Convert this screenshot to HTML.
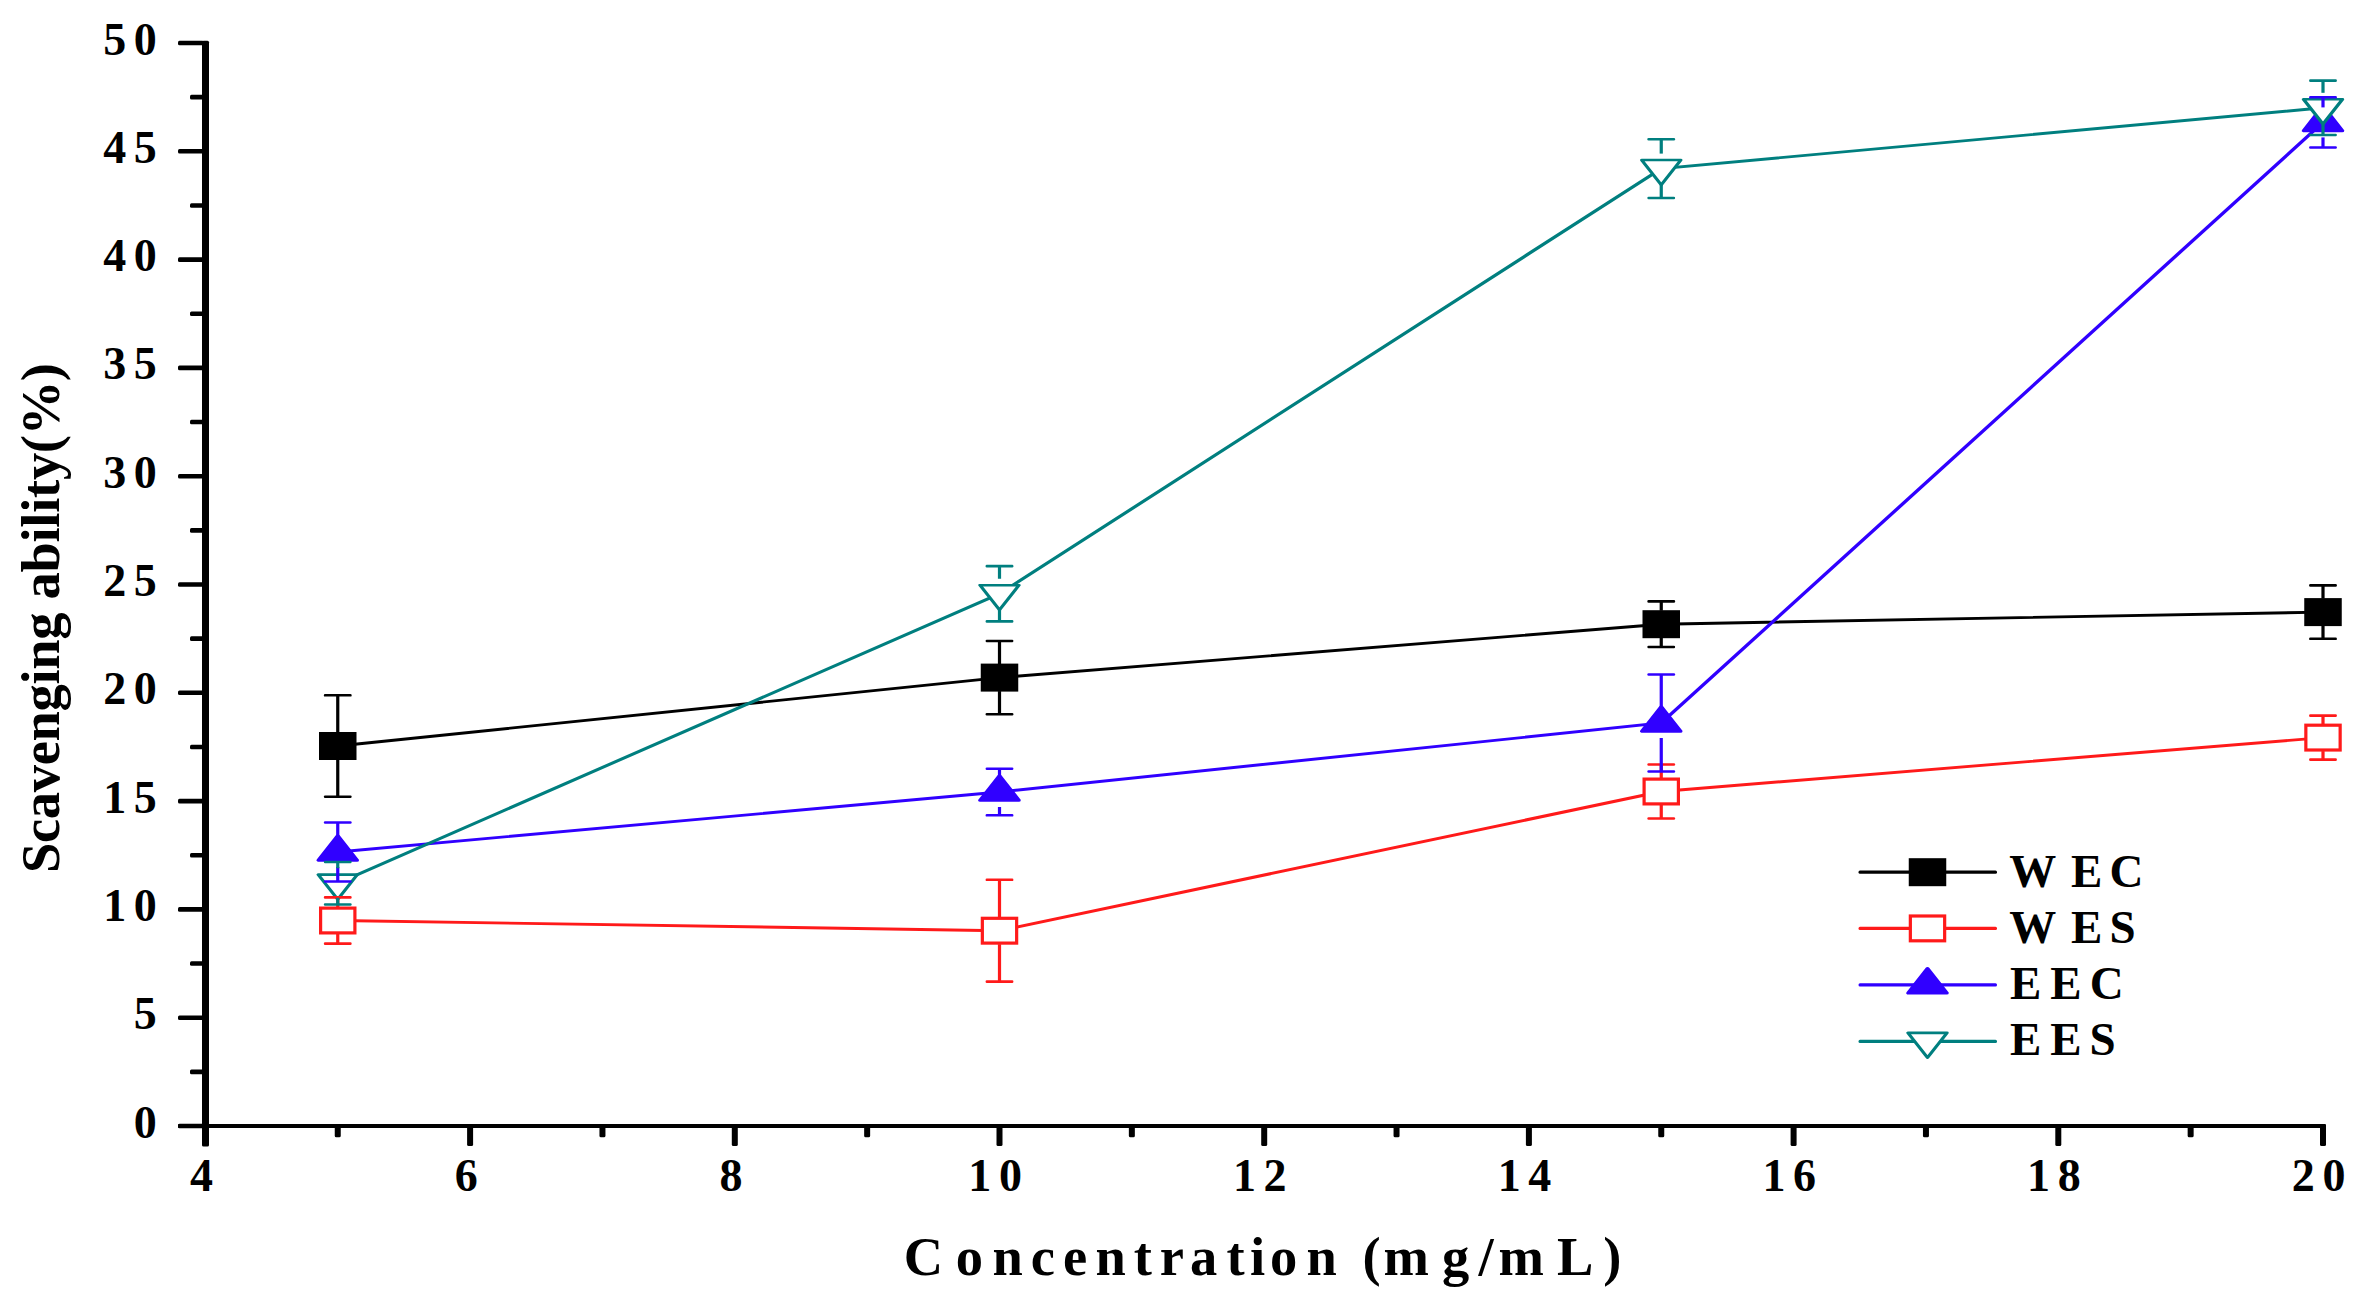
<!DOCTYPE html>
<html lang="en">
<head>
<meta charset="utf-8">
<title>Scavenging ability vs Concentration</title>
<style>
html,body{margin:0;padding:0;background:#ffffff;}
body{width:2378px;height:1315px;overflow:hidden;font-family:"Liberation Serif",serif;}
svg{display:block;}
</style>
</head>
<body>
<svg width="2378" height="1315" viewBox="0 0 2378 1315">
<rect x="0" y="0" width="2378" height="1315" fill="#ffffff"/>
<g fill="#000000">
<rect x="202" y="40.8" width="7" height="1105.7" rx="1.5"/>
<rect x="178" y="1124" width="2148" height="4" rx="1"/>
<rect x="178" y="1123.70" width="26" height="4.6" rx="1.5"/>
<rect x="190" y="1069.55" width="14" height="4.6" rx="1.5"/>
<rect x="178" y="1015.40" width="26" height="4.6" rx="1.5"/>
<rect x="190" y="961.25" width="14" height="4.6" rx="1.5"/>
<rect x="178" y="907.10" width="26" height="4.6" rx="1.5"/>
<rect x="190" y="852.95" width="14" height="4.6" rx="1.5"/>
<rect x="178" y="798.80" width="26" height="4.6" rx="1.5"/>
<rect x="190" y="744.65" width="14" height="4.6" rx="1.5"/>
<rect x="178" y="690.50" width="26" height="4.6" rx="1.5"/>
<rect x="190" y="636.35" width="14" height="4.6" rx="1.5"/>
<rect x="178" y="582.20" width="26" height="4.6" rx="1.5"/>
<rect x="190" y="528.05" width="14" height="4.6" rx="1.5"/>
<rect x="178" y="473.90" width="26" height="4.6" rx="1.5"/>
<rect x="190" y="419.75" width="14" height="4.6" rx="1.5"/>
<rect x="178" y="365.60" width="26" height="4.6" rx="1.5"/>
<rect x="190" y="311.45" width="14" height="4.6" rx="1.5"/>
<rect x="178" y="257.30" width="26" height="4.6" rx="1.5"/>
<rect x="190" y="203.15" width="14" height="4.6" rx="1.5"/>
<rect x="178" y="149.00" width="26" height="4.6" rx="1.5"/>
<rect x="190" y="94.85" width="14" height="4.6" rx="1.5"/>
<rect x="178" y="40.70" width="26" height="4.6" rx="1.5"/>
<rect x="202.40" y="1125" width="6" height="21" rx="1.5"/>
<rect x="334.75" y="1125" width="6" height="12.3" rx="1.5"/>
<rect x="467.10" y="1125" width="6" height="21" rx="1.5"/>
<rect x="599.45" y="1125" width="6" height="12.3" rx="1.5"/>
<rect x="731.80" y="1125" width="6" height="21" rx="1.5"/>
<rect x="864.15" y="1125" width="6" height="12.3" rx="1.5"/>
<rect x="996.50" y="1125" width="6" height="21" rx="1.5"/>
<rect x="1128.85" y="1125" width="6" height="12.3" rx="1.5"/>
<rect x="1261.20" y="1125" width="6" height="21" rx="1.5"/>
<rect x="1393.55" y="1125" width="6" height="12.3" rx="1.5"/>
<rect x="1525.90" y="1125" width="6" height="21" rx="1.5"/>
<rect x="1658.25" y="1125" width="6" height="12.3" rx="1.5"/>
<rect x="1790.60" y="1125" width="6" height="21" rx="1.5"/>
<rect x="1922.95" y="1125" width="6" height="12.3" rx="1.5"/>
<rect x="2055.30" y="1125" width="6" height="21" rx="1.5"/>
<rect x="2187.65" y="1125" width="6" height="12.3" rx="1.5"/>
<rect x="2320.00" y="1125" width="6" height="21" rx="1.5"/>
</g>
<g font-family="'Liberation Serif', serif" font-weight="bold" font-size="46" fill="#000000">
<text x="133.8" y="1137.50">0</text>
<text x="133.8" y="1029.20">5</text>
<text x="103.3 133.8" y="920.90">10</text>
<text x="103.3 133.8" y="812.60">15</text>
<text x="103.3 133.8" y="704.30">20</text>
<text x="103.3 133.8" y="596.00">25</text>
<text x="103.3 133.8" y="487.70">30</text>
<text x="103.3 133.8" y="379.40">35</text>
<text x="103.3 133.8" y="271.10">40</text>
<text x="103.3 133.8" y="162.80">45</text>
<text x="103.3 133.8" y="54.50">50</text>
<text x="190.10" y="1190.6">4</text>
<text x="454.80" y="1190.6">6</text>
<text x="719.50" y="1190.6">8</text>
<text x="968.30 998.90" y="1190.6">10</text>
<text x="1233.00 1263.60" y="1190.6">12</text>
<text x="1497.70 1528.30" y="1190.6">14</text>
<text x="1762.40 1793.00" y="1190.6">16</text>
<text x="2027.10 2057.70" y="1190.6">18</text>
<text x="2291.80 2322.40" y="1190.6">20</text>
</g>
<text font-family="'Liberation Serif', serif" font-weight="bold" font-size="54.5" fill="#000000" y="1275.2" x="903.8 955.7 992.5 1030.7 1063.0 1095.4 1133.8 1159.7 1190.1 1226.4 1250.0 1269.9 1306.6 1345.0 1362.4 1383.5 1442.1 1478.5 1498.4 1557.0 1603.2">Concentration (mg/mL)</text>
<text font-family="'Liberation Serif', serif" font-weight="bold" font-size="54.5" fill="#000000" transform="translate(58.5 873) rotate(-90)" x="0" y="0" textLength="510" lengthAdjust="spacing">Scavenging ability(%)</text>
<g>
<polyline transform="scale(1.33333 1)" points="253.31,746.00 749.62,677.60 1245.94,624.20 1742.25,612.10" fill="none" stroke="#000000" stroke-width="2.9"/>
<rect x="319.00" y="732.00" width="37.5" height="28.0" fill="#000000"/>
<rect x="980.75" y="663.60" width="37.5" height="28.0" fill="#000000"/>
<rect x="1642.50" y="610.20" width="37.5" height="28.0" fill="#000000"/>
<rect x="2304.25" y="598.10" width="37.5" height="28.0" fill="#000000"/>
</g>
<g>
<polyline transform="scale(1.33333 1)" points="253.31,920.50 749.62,930.70 1245.94,791.50 1742.25,737.60" fill="none" stroke="#ff1a1a" stroke-width="2.9"/>
<rect x="320.60" y="908.10" width="34.3" height="24.8" fill="#ffffff" stroke="#ff1a1a" stroke-width="3.2"/>
<rect x="982.35" y="918.30" width="34.3" height="24.8" fill="#ffffff" stroke="#ff1a1a" stroke-width="3.2"/>
<rect x="1644.10" y="779.10" width="34.3" height="24.8" fill="#ffffff" stroke="#ff1a1a" stroke-width="3.2"/>
<rect x="2305.85" y="725.20" width="34.3" height="24.8" fill="#ffffff" stroke="#ff1a1a" stroke-width="3.2"/>
</g>
<g>
<polyline transform="scale(1.33333 1)" points="253.31,852.00 749.62,792.00 1245.94,723.00 1742.25,122.40" fill="none" stroke="#3000ff" stroke-width="2.9"/>
<polygon transform="scale(1.33333 1)" points="253.31,835.70 238.85,860.30 267.77,860.30" fill="#3000ff" stroke="#3000ff" stroke-width="3" stroke-linejoin="round"/>
<polygon transform="scale(1.33333 1)" points="749.62,775.70 735.16,800.30 764.09,800.30" fill="#3000ff" stroke="#3000ff" stroke-width="3" stroke-linejoin="round"/>
<polygon transform="scale(1.33333 1)" points="1245.94,706.70 1231.48,731.30 1260.40,731.30" fill="#3000ff" stroke="#3000ff" stroke-width="3" stroke-linejoin="round"/>
<polygon transform="scale(1.33333 1)" points="1742.25,106.10 1727.79,130.70 1756.71,130.70" fill="#3000ff" stroke="#3000ff" stroke-width="3" stroke-linejoin="round"/>
</g>
<g>
<polyline transform="scale(1.33333 1)" points="253.31,883.20 749.62,593.75 1245.94,168.60 1742.25,107.80" fill="none" stroke="#007f7f" stroke-width="2.9"/>
<polygon transform="scale(1.33333 1)" points="253.31,899.40 238.67,874.65 267.95,874.65" fill="#ffffff" stroke="#007f7f" stroke-width="2.6" stroke-linejoin="round"/>
<polygon transform="scale(1.33333 1)" points="749.62,609.95 734.99,585.20 764.26,585.20" fill="#ffffff" stroke="#007f7f" stroke-width="2.6" stroke-linejoin="round"/>
<polygon transform="scale(1.33333 1)" points="1245.94,184.80 1231.30,160.05 1260.58,160.05" fill="#ffffff" stroke="#007f7f" stroke-width="2.6" stroke-linejoin="round"/>
<polygon transform="scale(1.33333 1)" points="1742.25,124.00 1727.61,99.25 1756.89,99.25" fill="#ffffff" stroke="#007f7f" stroke-width="2.6" stroke-linejoin="round"/>
</g>
<g fill="#000000">
<rect x="323.85" y="694.00" width="27.8" height="2.6" rx="1.2"/>
<rect x="323.85" y="795.40" width="27.8" height="2.6" rx="1.2"/>
<rect x="336.15" y="695.30" width="3.2" height="37.20"/>
<rect x="336.15" y="759.50" width="3.2" height="37.20"/>
<rect x="985.60" y="639.70" width="27.8" height="2.6" rx="1.2"/>
<rect x="985.60" y="712.90" width="27.8" height="2.6" rx="1.2"/>
<rect x="997.90" y="641.00" width="3.2" height="23.10"/>
<rect x="997.90" y="691.10" width="3.2" height="23.10"/>
<rect x="1647.35" y="600.10" width="27.8" height="2.6" rx="1.2"/>
<rect x="1647.35" y="645.70" width="27.8" height="2.6" rx="1.2"/>
<rect x="1659.65" y="601.40" width="3.2" height="9.30"/>
<rect x="1659.65" y="637.70" width="3.2" height="9.30"/>
<rect x="2309.10" y="584.10" width="27.8" height="2.6" rx="1.2"/>
<rect x="2309.10" y="637.50" width="27.8" height="2.6" rx="1.2"/>
<rect x="2321.40" y="585.40" width="3.2" height="13.20"/>
<rect x="2321.40" y="625.60" width="3.2" height="13.20"/>
</g>
<g fill="#ff1a1a">
<rect x="323.85" y="896.10" width="27.8" height="2.6" rx="1.2"/>
<rect x="323.85" y="942.30" width="27.8" height="2.6" rx="1.2"/>
<rect x="336.15" y="897.40" width="3.2" height="9.60"/>
<rect x="336.15" y="934.00" width="3.2" height="9.60"/>
<rect x="985.60" y="878.50" width="27.8" height="2.6" rx="1.2"/>
<rect x="985.60" y="980.30" width="27.8" height="2.6" rx="1.2"/>
<rect x="997.90" y="879.80" width="3.2" height="37.40"/>
<rect x="997.90" y="944.20" width="3.2" height="37.40"/>
<rect x="1647.35" y="763.20" width="27.8" height="2.6" rx="1.2"/>
<rect x="1647.35" y="817.20" width="27.8" height="2.6" rx="1.2"/>
<rect x="1659.65" y="764.50" width="3.2" height="13.50"/>
<rect x="1659.65" y="805.00" width="3.2" height="13.50"/>
<rect x="2309.10" y="714.30" width="27.8" height="2.6" rx="1.2"/>
<rect x="2309.10" y="758.30" width="27.8" height="2.6" rx="1.2"/>
<rect x="2321.40" y="715.60" width="3.2" height="8.50"/>
<rect x="2321.40" y="751.10" width="3.2" height="8.50"/>
</g>
<g fill="#3000ff">
<rect x="323.85" y="821.20" width="27.8" height="2.6" rx="1.2"/>
<rect x="323.85" y="880.20" width="27.8" height="2.6" rx="1.2"/>
<rect x="336.15" y="822.50" width="3.2" height="14.50"/>
<rect x="336.15" y="867.00" width="3.2" height="14.50"/>
<rect x="985.60" y="767.40" width="27.8" height="2.6" rx="1.2"/>
<rect x="985.60" y="814.00" width="27.8" height="2.6" rx="1.2"/>
<rect x="997.90" y="768.70" width="3.2" height="8.30"/>
<rect x="997.90" y="807.00" width="3.2" height="8.30"/>
<rect x="1647.35" y="673.20" width="27.8" height="2.6" rx="1.2"/>
<rect x="1647.35" y="770.20" width="27.8" height="2.6" rx="1.2"/>
<rect x="1659.65" y="674.50" width="3.2" height="33.50"/>
<rect x="1659.65" y="738.00" width="3.2" height="33.50"/>
<rect x="2309.10" y="96.00" width="27.8" height="2.6" rx="1.2"/>
<rect x="2309.10" y="146.20" width="27.8" height="2.6" rx="1.2"/>
<rect x="2321.40" y="97.30" width="3.2" height="10.10"/>
<rect x="2321.40" y="137.40" width="3.2" height="10.10"/>
</g>
<g fill="#007f7f">
<rect x="323.85" y="860.65" width="27.8" height="2.6" rx="1.2"/>
<rect x="323.85" y="903.15" width="27.8" height="2.6" rx="1.2"/>
<rect x="336.15" y="861.95" width="3.2" height="6.25"/>
<rect x="336.15" y="897.70" width="3.2" height="6.75"/>
<rect x="985.60" y="564.80" width="27.8" height="2.6" rx="1.2"/>
<rect x="985.60" y="620.10" width="27.8" height="2.6" rx="1.2"/>
<rect x="997.90" y="566.10" width="3.2" height="12.65"/>
<rect x="997.90" y="608.25" width="3.2" height="13.15"/>
<rect x="1647.35" y="137.90" width="27.8" height="2.6" rx="1.2"/>
<rect x="1647.35" y="196.70" width="27.8" height="2.6" rx="1.2"/>
<rect x="1659.65" y="139.20" width="3.2" height="14.40"/>
<rect x="1659.65" y="183.10" width="3.2" height="14.90"/>
<rect x="2309.10" y="79.30" width="27.8" height="2.6" rx="1.2"/>
<rect x="2309.10" y="133.70" width="27.8" height="2.6" rx="1.2"/>
<rect x="2321.40" y="80.60" width="3.2" height="12.20"/>
<rect x="2321.40" y="122.30" width="3.2" height="12.70"/>
</g>
<rect x="1858.5" y="870.60" width="138.5" height="3.2" rx="1.5" fill="#000000"/>
<rect x="1908.75" y="858.20" width="37.5" height="28.0" fill="#000000"/>
<text font-family="'Liberation Serif', serif" font-weight="bold" font-size="47" fill="#000000" y="887.0" x="2009.2 2071.1 2109.6">WEC</text>
<rect x="1858.5" y="926.80" width="138.5" height="3.2" rx="1.5" fill="#ff1a1a"/>
<rect x="1910.35" y="916.00" width="34.3" height="24.8" fill="#ffffff" stroke="#ff1a1a" stroke-width="3.2"/>
<text font-family="'Liberation Serif', serif" font-weight="bold" font-size="47" fill="#000000" y="943.1" x="2009.2 2071.1 2109.4">WES</text>
<rect x="1858.5" y="983.20" width="138.5" height="3.2" rx="1.5" fill="#3000ff"/>
<polygon transform="scale(1.33333 1)" points="1445.62,968.50 1431.16,993.10 1460.09,993.10" fill="#3000ff" stroke="#3000ff" stroke-width="3" stroke-linejoin="round"/>
<text font-family="'Liberation Serif', serif" font-weight="bold" font-size="47" fill="#000000" y="999.0" x="2010.0 2050.2 2089.7">EEC</text>
<rect x="1858.5" y="1039.80" width="138.5" height="3.2" rx="1.5" fill="#007f7f"/>
<polygon transform="scale(1.33333 1)" points="1445.62,1057.60 1430.98,1032.85 1460.27,1032.85" fill="#ffffff" stroke="#007f7f" stroke-width="2.6" stroke-linejoin="round"/>
<text font-family="'Liberation Serif', serif" font-weight="bold" font-size="47" fill="#000000" y="1055.0" x="2010.0 2050.2 2089.5">EES</text>
</svg>
</body>
</html>
